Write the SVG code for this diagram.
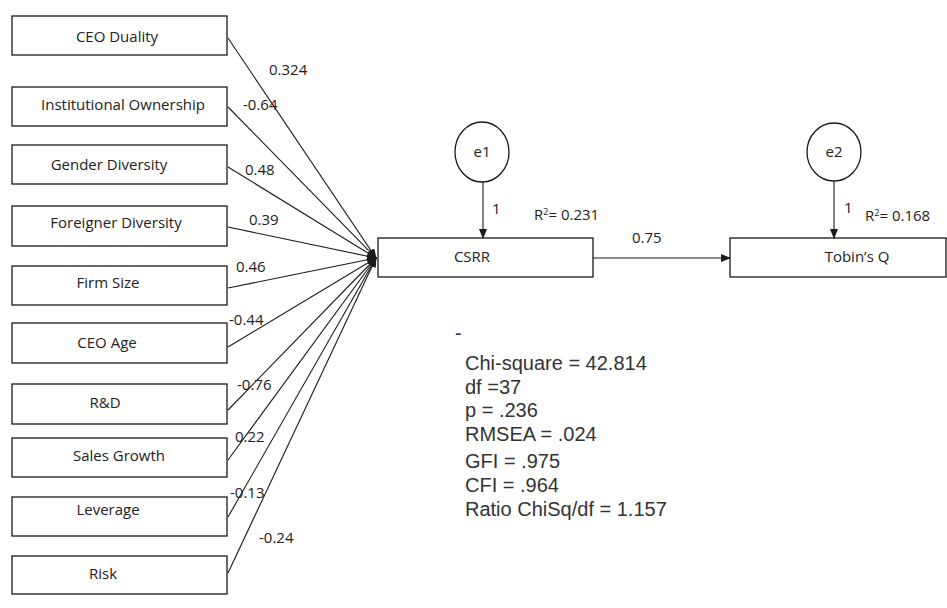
<svg xmlns="http://www.w3.org/2000/svg" width="947" height="608" viewBox="0 0 947 608">
<style>
.box{fill:#fff;stroke:#1a1a1a;stroke-width:1.3}
.lbl{font-family:"Open Sans","Liberation Sans",sans-serif;font-size:15px;fill:#222;text-anchor:middle}
.num{font-family:"Open Sans","Liberation Sans",sans-serif;font-size:15px;fill:#222}
.edge{stroke:#1a1a1a;stroke-width:1.1;fill:none}
.stat{font-family:"Liberation Sans",Arial,sans-serif;font-size:20px;fill:#333}
</style>
<defs>
<marker id="ah" markerWidth="10" markerHeight="8" refX="9" refY="4" orient="auto" markerUnits="userSpaceOnUse">
<path d="M0,0 L10,4 L0,8 z" fill="#1a1a1a"/>
</marker>
</defs>
<rect width="947" height="608" fill="#fff"/>
<g id="n-ceo-duality"><rect class="box" x="12" y="16" width="215" height="39"/><text class="lbl" x="117" y="42">CEO Duality</text></g>
<g id="n-inst-own"><rect class="box" x="12" y="87" width="215" height="39"/><text class="lbl" x="123" y="110">Institutional Ownership</text></g>
<g id="n-gender"><rect class="box" x="12" y="145" width="215" height="39"/><text class="lbl" x="109" y="170">Gender Diversity</text></g>
<g id="n-foreigner"><rect class="box" x="12" y="206" width="215" height="40"/><text class="lbl" x="116" y="228">Foreigner Diversity</text></g>
<g id="n-firm-size"><rect class="box" x="12" y="266" width="215" height="39"/><text class="lbl" x="108" y="288">Firm Size</text></g>
<g id="n-ceo-age"><rect class="box" x="12" y="323" width="215" height="40"/><text class="lbl" x="107" y="348">CEO Age</text></g>
<g id="n-rd"><rect class="box" x="12" y="384" width="215" height="40"/><text class="lbl" x="105" y="408">R&amp;D</text></g>
<g id="n-sales"><rect class="box" x="12" y="438" width="215" height="39"/><text class="lbl" x="119" y="461">Sales Growth</text></g>
<g id="n-leverage"><rect class="box" x="12" y="497" width="215" height="39"/><text class="lbl" x="108" y="515">Leverage</text></g>
<g id="n-risk"><rect class="box" x="12" y="556" width="215" height="38"/><text class="lbl" x="103" y="579">Risk</text></g>
<g id="n-csrr"><rect class="box" x="378" y="238" width="215" height="39"/><text class="lbl" x="472" y="262">CSRR</text></g>
<g id="n-tobin"><rect class="box" x="730" y="238" width="216" height="39"/><text class="lbl" x="857" y="262">Tobin’s Q</text></g>
<g id="n-e1"><ellipse class="box" cx="482" cy="152" rx="27" ry="30"/><text class="lbl" x="482" y="157">e1</text></g>
<g id="n-e2"><ellipse class="box" cx="834" cy="152" rx="27" ry="29"/><text class="lbl" x="834" y="157">e2</text></g>
<g id="connectors">
<line class="edge" x1="228" y1="38" x2="376" y2="258" marker-end="url(#ah)"/>
<line class="edge" x1="228" y1="107" x2="376" y2="258" marker-end="url(#ah)"/>
<line class="edge" x1="228" y1="167" x2="376" y2="258" marker-end="url(#ah)"/>
<line class="edge" x1="228" y1="227" x2="376" y2="258" marker-end="url(#ah)"/>
<line class="edge" x1="228" y1="288" x2="376" y2="258" marker-end="url(#ah)"/>
<line class="edge" x1="228" y1="347" x2="376" y2="258" marker-end="url(#ah)"/>
<line class="edge" x1="228" y1="410" x2="376" y2="258" marker-end="url(#ah)"/>
<line class="edge" x1="228" y1="460" x2="376" y2="258" marker-end="url(#ah)"/>
<line class="edge" x1="228" y1="517" x2="376" y2="258" marker-end="url(#ah)"/>
<line class="edge" x1="228" y1="573" x2="376" y2="258" marker-end="url(#ah)"/>
<line class="edge" x1="483" y1="182" x2="483" y2="238" marker-end="url(#ah)"/>
<line class="edge" x1="834" y1="181" x2="834" y2="238" marker-end="url(#ah)"/>
<line class="edge" x1="593" y1="258" x2="730" y2="258" marker-end="url(#ah)"/>
</g>
<g id="edge-labels">
<text class="num" x="269" y="75">0.324</text>
<text class="num" x="243" y="110">-0.64</text>
<text class="num" x="245" y="175">0.48</text>
<text class="num" x="249" y="225">0.39</text>
<text class="num" x="236" y="272">0.46</text>
<text class="num" x="229" y="325">-0.44</text>
<text class="num" x="237" y="390">-0.76</text>
<text class="num" x="235" y="442">0.22</text>
<text class="num" x="230" y="498">-0.13</text>
<text class="num" x="259" y="543">-0.24</text>
<text class="num" x="492" y="214">1</text>
<text class="num" x="844" y="213">1</text>
<text class="num" x="632" y="243">0.75</text>
<text class="num" x="534" y="220">R<tspan font-size="9" dy="-5">2</tspan><tspan dy="5">= 0.231</tspan></text>
<text class="num" x="865" y="221">R<tspan font-size="9" dy="-5">2</tspan><tspan dy="5">= 0.168</tspan></text>
</g>
<g id="fit-stats">
<text class="stat" x="455" y="340" font-size="12">-</text>
<text class="stat" x="465" y="370">Chi-square = 42.814</text>
<text class="stat" x="465" y="393.5">df =37</text>
<text class="stat" x="465" y="417">p = .236</text>
<text class="stat" x="465" y="440.5">RMSEA = .024</text>
<text class="stat" x="465" y="468">GFI = .975</text>
<text class="stat" x="465" y="492">CFI = .964</text>
<text class="stat" x="465" y="516">Ratio ChiSq/df = 1.157</text>
</g>
</svg>
